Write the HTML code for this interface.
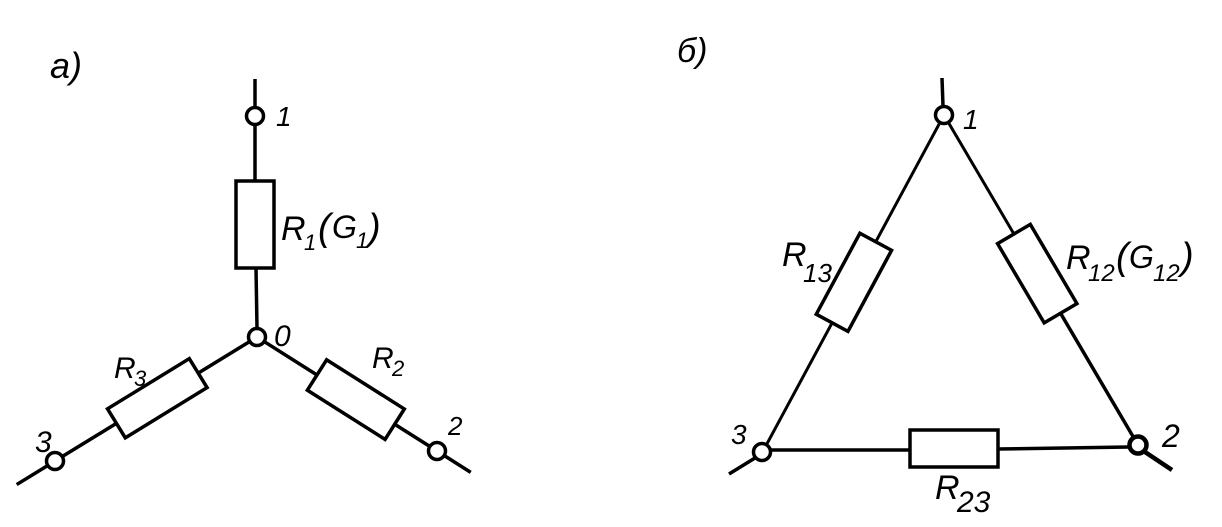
<!DOCTYPE html>
<html><head><meta charset="utf-8"><style>
html,body{margin:0;padding:0;background:#fff;}
svg{display:block}
text{font-family:"Liberation Sans",sans-serif;font-style:italic;fill:#000}
</style></head><body>
<svg width="1222" height="527" viewBox="0 0 1222 527" xmlns="http://www.w3.org/2000/svg">
<g stroke="#000" stroke-width="3.5" fill="none" stroke-linecap="butt">
<!-- LEFT: star -->
<line x1="255" y1="79" x2="255" y2="107"/>
<line x1="255" y1="125" x2="255" y2="180"/>
<rect x="236" y="181" width="38" height="87"/>
<line x1="256" y1="268" x2="257" y2="328"/>
<circle cx="255" cy="116" r="8.5"/>
<circle cx="257" cy="337" r="8.5"/>
<!-- R3 -->
<g transform="translate(257,337) rotate(148.45)">
<line x1="9" y1="0" x2="69" y2="0"/>
<rect x="69" y="-17" width="96" height="34"/>
<line x1="165" y1="0" x2="228" y2="0"/>
<line x1="246" y1="0" x2="282" y2="0"/>
</g>
<circle cx="55" cy="461" r="8.5"/>
<!-- R2 -->
<g transform="translate(257,337) rotate(32.35)">
<line x1="9" y1="0" x2="71" y2="0"/>
<rect x="71" y="-18" width="92" height="36"/>
<line x1="163" y1="0" x2="204" y2="0"/>
<line x1="222" y1="0" x2="253" y2="0"/>
</g>
<circle cx="437" cy="451" r="8.5"/>

<!-- RIGHT: delta -->
<line x1="942" y1="78" x2="943" y2="106"/>
<circle cx="944" cy="115" r="8.5"/>
<g transform="translate(944,115) rotate(118.3)" stroke-width="3">
<line x1="9" y1="0" x2="144" y2="0"/>
<rect x="144" y="-18" width="92" height="36" stroke-width="3.5"/>
<line x1="236" y1="0" x2="375" y2="0"/>
</g>
<g transform="translate(944,115) rotate(59.55)" stroke-width="3">
<line x1="9" y1="0" x2="138" y2="0"/>
<rect x="138" y="-19" width="92" height="38" stroke-width="3.5"/>
<line x1="230" y1="0" x2="374" y2="0" stroke-width="3.5"/>
</g>
<circle cx="762" cy="452" r="8.5"/>
<line x1="755" y1="458" x2="729" y2="474"/>
<line x1="771" y1="450" x2="910" y2="450"/>
<rect x="910" y="430" width="88" height="37"/>
<line x1="998" y1="449" x2="1129" y2="447"/>
<circle cx="1138" cy="445" r="8.5" stroke-width="4.5"/>
<line x1="1145" y1="452" x2="1172" y2="470" stroke-width="4.5"/>
</g>
<g>
<text x="50" y="78" font-size="36">a)</text>
<text x="276" y="126" font-size="28">1</text>
<text x="281" y="240" font-size="34">R</text>
<text x="304" y="250" font-size="22">1</text>
<text x="318" y="240" font-size="38">(</text>
<text x="332" y="238" font-size="32">G</text>
<text x="356" y="248" font-size="22">1</text>
<text x="368" y="240" font-size="38">)</text>
<text x="274" y="346" font-size="30">0</text>
<text x="114" y="378" font-size="30">R</text>
<text x="134" y="386" font-size="22">3</text>
<text x="372" y="368" font-size="30">R</text>
<text x="392" y="376" font-size="22">2</text>
<text x="35" y="452" font-size="30">3</text>
<text x="448" y="435" font-size="26">2</text>

<text x="677" y="62" font-size="34">б)</text>
<text x="963" y="129" font-size="28">1</text>
<text x="782" y="266" font-size="34">R</text>
<text x="803" y="282" font-size="26">13</text>
<text x="1066" y="269" font-size="34">R</text>
<text x="1088" y="281" font-size="24">12</text>
<text x="1116" y="269" font-size="38">(</text>
<text x="1129" y="268" font-size="32">G</text>
<text x="1153" y="281" font-size="24">12</text>
<text x="1181" y="269" font-size="38">)</text>
<text x="731" y="444" font-size="28">3</text>
<text x="1162" y="447" font-size="32">2</text>
<text x="935" y="499" font-size="34">R</text>
<text x="957" y="512" font-size="30">23</text>
</g>
</svg>
</body></html>
